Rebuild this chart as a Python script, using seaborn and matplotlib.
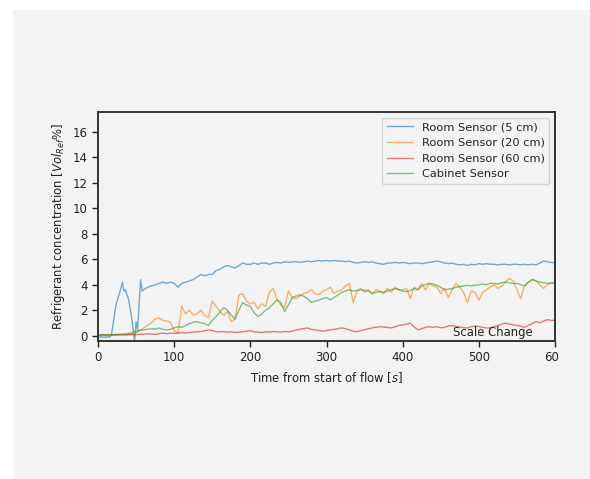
import matplotlib
matplotlib.use("Agg")
import matplotlib.pyplot as plt
from matplotlib.patches import Rectangle
from matplotlib.transforms import Bbox, TransformedBbox
import seaborn as sns
import pandas as pd

# time axis [s]: 2 s steps to 58 s, then 5 s steps to 600 s
time_fine = [0, 2, 4, 6, 8, 10, 12, 14, 16, 18, 20, 22, 24, 26, 28,
             30, 32, 34, 36, 38, 40, 42, 44, 46, 48, 50, 52, 54, 56, 58]
time_coarse = [60, 65, 70, 75, 80, 85, 90, 95, 100, 105,
               110, 115, 120, 125, 130, 135, 140, 145, 150, 155,
               160, 165, 170, 175, 180, 185, 190, 195, 200, 205,
               210, 215, 220, 225, 230, 235, 240, 245, 250, 255,
               260, 265, 270, 275, 280, 285, 290, 295, 300, 305,
               310, 315, 320, 325, 330, 335, 340, 345, 350, 355,
               360, 365, 370, 375, 380, 385, 390, 395, 400, 405,
               410, 415, 420, 425, 430, 435, 440, 445, 450, 455,
               460, 465, 470, 475, 480, 485, 490, 495, 500, 505,
               510, 515, 520, 525, 530, 535, 540, 545, 550, 555,
               560, 565, 570, 575, 580, 585, 590, 595, 600]
time_s = time_fine + time_coarse

room_5cm = [
    -0.1, -0.12, -0.08, -0.1, -0.15, -0.1, -0.12, -0.08, -0.1, 0.2,
    1.0, 1.8, 2.5, 2.9, 3.3, 3.7, 4.2, 3.5, 3.6, 3.2,
    2.9, 2.2, 1.5, 0.6, -0.5, 1.1, 0.4, 2.5, 4.4, 3.5,
    3.6, 3.8, 3.9, 4.0, 4.1, 4.2, 4.1, 4.2, 4.1, 3.8,
    4.1, 4.2, 4.3, 4.4, 4.6, 4.8, 4.7, 4.8, 4.8, 5.1,
    5.2, 5.4, 5.5, 5.4, 5.3, 5.5, 5.7, 5.6, 5.6, 5.7,
    5.6, 5.7, 5.7, 5.6, 5.7, 5.75, 5.7, 5.8, 5.75, 5.8,
    5.8, 5.75, 5.8, 5.85, 5.8, 5.85, 5.9, 5.85, 5.9, 5.85,
    5.9, 5.85, 5.85, 5.8, 5.85, 5.75, 5.7, 5.75, 5.8, 5.75,
    5.8, 5.7, 5.65, 5.6, 5.7, 5.7, 5.75, 5.7, 5.75, 5.7,
    5.65, 5.7, 5.7, 5.65, 5.7, 5.75, 5.8, 5.85, 5.8, 5.7,
    5.65, 5.7, 5.6, 5.55, 5.6, 5.5, 5.6, 5.55, 5.65, 5.6,
    5.65, 5.6, 5.6, 5.55, 5.6, 5.6, 5.55, 5.6, 5.6, 5.55,
    5.6, 5.55, 5.6, 5.55, 5.7, 5.85, 5.8, 5.75, 5.7]

room_20cm = [
    0.05, 0.08, 0.05, 0.1, 0.05, 0.08, 0.05, 0.1, 0.08, 0.05,
    0.1, 0.08, 0.05, 0.1, 0.08, 0.05, 0.1, 0.08, 0.1, 0.05,
    0.1, 0.12, 0.1, 0.15, 0.2, 0.25, 0.3, 0.35, 0.45, 0.5,
    0.6, 0.8, 1.0, 1.3, 1.4, 1.2, 1.15, 1.05, 0.4, 0.2,
    2.3, 1.7, 2.0, 1.6, 1.7, 2.0, 1.6, 1.4, 2.7, 2.3,
    1.9, 1.6, 1.9, 1.1, 1.3, 3.2, 3.3, 2.7, 2.5, 2.6,
    2.1, 2.5, 2.3, 3.4, 3.7, 2.9, 2.4, 2.2, 3.5, 3.0,
    2.9, 3.1, 3.3, 3.4, 3.6, 3.3, 3.2, 3.5, 3.6, 3.8,
    3.3, 3.5, 3.6, 3.9, 4.1, 2.6, 3.5, 3.7, 3.4, 3.6,
    3.3, 3.6, 3.5, 3.3, 3.7, 3.4, 3.8, 3.6, 3.6, 3.7,
    2.9, 3.8, 3.6, 4.1, 3.6, 4.1, 3.9, 3.8, 3.3, 3.7,
    3.0, 3.6, 4.1, 3.8, 3.4, 2.6, 3.5, 3.4, 2.8, 3.4,
    3.6, 3.8, 4.0, 3.7, 3.9, 4.2, 4.5, 4.3, 3.6, 2.9,
    3.9, 4.2, 4.4, 4.3, 4.0, 3.7, 4.0, 4.1, 4.15]

room_60cm = [
    0.05, 0.02, 0.06, 0.03, 0.05, 0.02, 0.06, 0.04, 0.05, 0.03,
    0.06, 0.04, 0.05, 0.08, 0.05, 0.06, 0.08, 0.05, 0.07, 0.06,
    0.08, 0.05, 0.1, 0.08, 0.06, 0.1, 0.08, 0.1, 0.12, 0.1,
    0.12, 0.15, 0.12, 0.1, 0.15, 0.2, 0.15, 0.2, 0.18, 0.2,
    0.25, 0.2, 0.25, 0.28, 0.3, 0.32, 0.38, 0.45, 0.4, 0.3,
    0.3, 0.32, 0.28, 0.3, 0.25, 0.28, 0.3, 0.35, 0.4, 0.3,
    0.28, 0.25, 0.3, 0.28, 0.32, 0.3, 0.28, 0.32, 0.3, 0.35,
    0.45, 0.5, 0.55, 0.6, 0.5, 0.45, 0.4, 0.35, 0.4, 0.45,
    0.5, 0.55, 0.6, 0.55, 0.45, 0.35, 0.3, 0.4, 0.45, 0.55,
    0.6, 0.65, 0.7, 0.68, 0.65, 0.6, 0.7, 0.8, 0.85, 0.9,
    0.98, 0.7, 0.45, 0.55, 0.65, 0.7, 0.65, 0.7, 0.62, 0.65,
    0.75, 0.8, 0.72, 0.68, 0.62, 0.6, 0.7, 0.75, 0.72, 0.65,
    0.6, 0.62, 0.7, 0.8, 0.9, 0.98, 0.9, 0.85, 0.8, 0.75,
    0.65, 0.8, 0.95, 1.1, 1.0, 1.15, 1.25, 1.2, 1.2]

cabinet = [
    0.05, 0.02, 0.05, 0.08, 0.04, 0.06, 0.05, 0.08, 0.06, 0.05,
    0.08, 0.06, 0.1, 0.08, 0.1, 0.12, 0.1, 0.15, 0.12, 0.15,
    0.2, 0.18, 0.2, 0.25, 0.3, 0.28, 0.35, 0.4, 0.45, 0.42,
    0.45, 0.5, 0.55, 0.5, 0.6, 0.5, 0.45, 0.5, 0.6, 0.7,
    0.65, 0.8, 0.95, 1.05, 1.1, 1.0, 0.95, 0.8, 1.2, 1.5,
    1.85, 2.2, 2.0, 1.6, 1.3, 2.0, 2.6, 2.4, 2.3, 1.8,
    1.5, 1.7, 2.0, 2.2, 2.5, 2.8, 2.6, 1.9, 2.4, 3.0,
    3.1, 3.2, 3.1, 2.9, 2.6, 2.7, 2.8, 2.9, 3.0, 2.8,
    3.0, 3.2, 3.4, 3.5, 3.6, 3.5, 3.55, 3.6, 3.55, 3.5,
    3.3, 3.4, 3.45, 3.4, 3.5, 3.6, 3.7, 3.6, 3.5, 3.45,
    3.55, 3.7, 3.6, 3.9, 4.0, 4.1, 4.05, 3.95, 3.8, 3.6,
    3.65, 3.7, 3.8, 3.85, 3.9, 3.95, 3.9, 3.95, 4.0, 4.05,
    4.0, 4.1, 4.1, 4.05, 4.15, 4.2, 4.15, 4.1, 4.1, 4.0,
    3.9, 4.2, 4.4, 4.3, 4.2, 4.15, 4.1, 4.15, 4.15]

series_names = ["Room Sensor (5 cm)", "Room Sensor (20 cm)",
                "Room Sensor (60 cm)", "Cabinet Sensor"]
series_values = [room_5cm, room_20cm, room_60cm, cabinet]
series_colors = ["#1f77b4", "#ff7f0e", "#d62728", "#2ca02c"]
x_ticks = [0, 100, 200, 300, 400, 500, 600]
y_ticks = [0, 2, 4, 6, 8, 10, 12, 14, 16]

frames = []
for name, vals in zip(series_names, series_values):
    frames.append(pd.DataFrame({"time": time_s, "value": vals, "sensor": name}))
df = pd.concat(frames, ignore_index=True)

bg = "#f3f3f3"
sns.set_style("ticks")
plt.rcParams["font.family"] = ["DejaVu Sans"]

fig = plt.figure(figsize=(5.90, 4.79), dpi=100, facecolor="white")
fig.patches.append(Rectangle((13 / 590, 0), 1, 1 - 10 / 479,
                             transform=fig.transFigure, facecolor=bg,
                             edgecolor="none", zorder=-10))
ax = fig.add_axes([98 / 590, 1 - 341 / 479, 457 / 590, 229 / 479])
ax.set_facecolor(bg)

sns.lineplot(data=df, x="time", y="value", hue="sensor",
             hue_order=series_names, palette=series_colors,
             linewidth=1.0, alpha=0.6, ax=ax, estimator=None)

ax.set_xlim(0, 600)
ax.set_ylim(-0.42, 17.55)
ax.set_xticks(x_ticks)
ax.set_yticks(y_ticks)
ax.tick_params(labelsize=8.5, length=4, width=1, colors="#222222")
for s in ax.spines.values():
    s.set_linewidth(1.4)
    s.set_color("#333333")

ax.set_xlabel("Time from start of flow [$s$]", fontsize=8.4, color="#222222")
ax.set_ylabel("Refrigerant concentration [$Vol_{Ref}\\%$]", fontsize=8.4,
              color="#222222")

ax.text(0.95, 0.008, "Scale Change", transform=ax.transAxes,
        ha="right", va="bottom", fontsize=8.4, color="#222222")

leg = ax.legend(loc="upper right", fontsize=8.2, frameon=True,
                handlelength=2.3, borderaxespad=0.5, labelspacing=0.5)
leg.get_frame().set_facecolor(bg)
leg.get_frame().set_edgecolor("#cccccc")
for text in leg.get_texts():
    text.set_color("#222222")
for line in leg.get_lines():
    line.set_alpha(0.6)
    line.set_linewidth(1.0)

# the last x tick label is cut at the right in the reference
clip = TransformedBbox(Bbox([[0, 0], [558 / 590, 1]]), fig.transFigure)
for lab in ax.get_xticklabels():
    lab.set_clip_box(clip)
    lab.set_clip_on(True)

fig.savefig("out.png", dpi=100, facecolor="white")
